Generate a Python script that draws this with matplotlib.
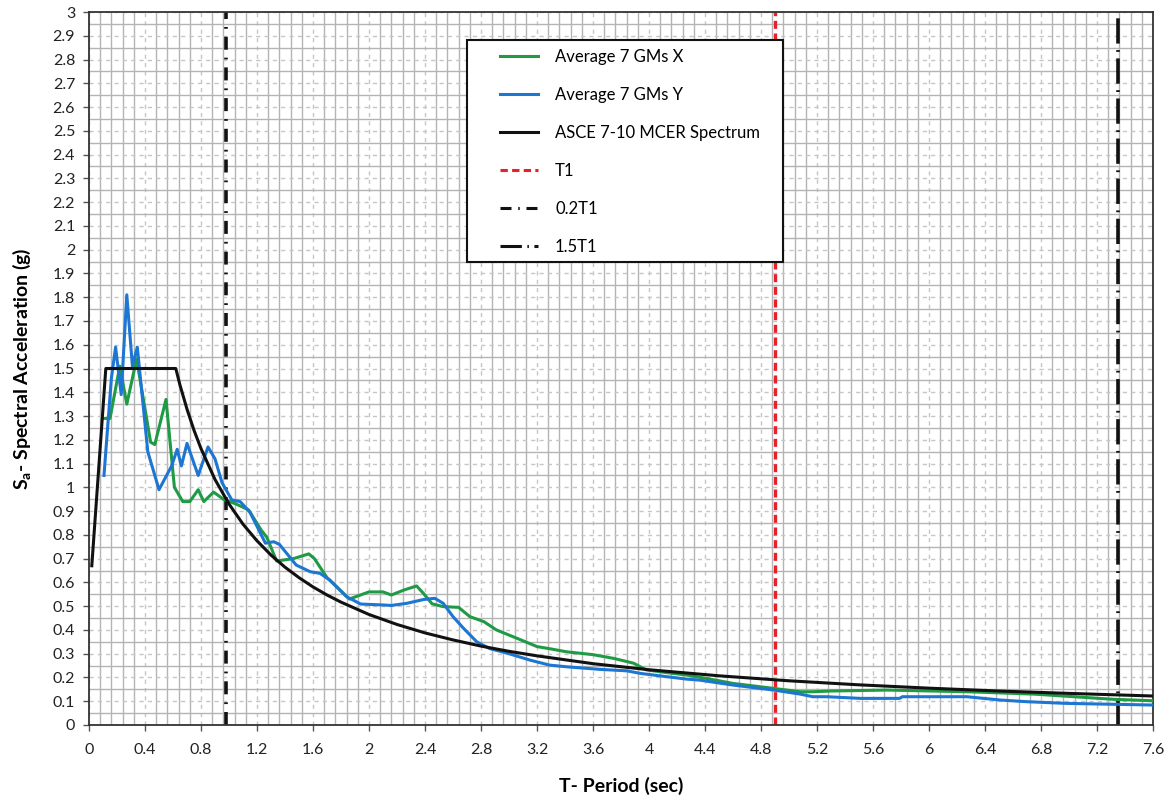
import matplotlib
matplotlib.use("Agg")
import matplotlib.pyplot as plt
from matplotlib.ticker import MultipleLocator
from matplotlib.patches import Rectangle

# ---------------- data ----------------
T_x = [0.11, 0.15, 0.22, 0.27, 0.34, 0.44, 0.47, 0.55, 0.61, 0.67, 0.72, 0.78, 0.82, 0.89,
       0.96, 1.05, 1.14, 1.23, 1.27, 1.34, 1.46, 1.57, 1.61, 1.70, 1.78, 1.86, 2.00, 2.10,
       2.16, 2.25, 2.34, 2.39, 2.45, 2.53, 2.64, 2.72, 2.82, 2.91, 3.06, 3.20, 3.30, 3.41,
       3.60, 3.75, 3.89, 3.98, 4.13, 4.27, 4.41, 4.60, 4.89, 5.08, 5.17, 5.30, 5.70, 6.27,
       6.75, 7.32, 7.60]
Sa_x = [1.29, 1.29, 1.51, 1.35, 1.54, 1.19, 1.18, 1.37, 1.00, 0.94, 0.94, 0.99, 0.94, 0.98,
        0.95, 0.93, 0.905, 0.82, 0.79, 0.69, 0.70, 0.72, 0.70, 0.62, 0.575, 0.53, 0.56, 0.56,
        0.547, 0.568, 0.585, 0.553, 0.51, 0.498, 0.495, 0.456, 0.435, 0.40, 0.364, 0.33, 0.32, 0.308,
        0.296, 0.28, 0.26, 0.232, 0.22, 0.21, 0.196, 0.175, 0.154, 0.14, 0.14, 0.143, 0.147, 0.14,
        0.13, 0.108, 0.102]

T_y = [0.107, 0.16, 0.19, 0.23, 0.27, 0.31, 0.345, 0.42, 0.50, 0.59, 0.63, 0.66, 0.70, 0.78,
       0.85, 0.90, 0.95, 1.02, 1.08, 1.15, 1.26, 1.32, 1.36, 1.48, 1.58, 1.65, 1.72, 1.84,
       1.94, 2.10, 2.16, 2.27, 2.39, 2.47, 2.53, 2.60, 2.675, 2.77, 2.86, 3.00, 3.15, 3.29,
       3.41, 3.65, 3.84, 3.94, 4.13, 4.27, 4.36, 4.60, 4.89, 5.08, 5.17, 5.27, 5.51, 5.79,
       5.81, 6.27, 6.51, 6.70, 6.98, 7.60]
Sa_y = [1.05, 1.46, 1.59, 1.39, 1.81, 1.51, 1.59, 1.15, 0.99, 1.09, 1.16, 1.09, 1.185, 1.05,
        1.17, 1.12, 1.02, 0.947, 0.94, 0.895, 0.765, 0.771, 0.76, 0.673, 0.645, 0.638, 0.61, 0.54,
        0.509, 0.505, 0.503, 0.512, 0.528, 0.533, 0.512, 0.456, 0.407, 0.35, 0.322, 0.30, 0.273, 0.252,
        0.245, 0.234, 0.228, 0.217, 0.203, 0.193, 0.189, 0.168, 0.147, 0.13, 0.119, 0.119, 0.112, 0.112,
        0.119, 0.119, 0.105, 0.098, 0.091, 0.084]

T_asce = [0.02, 0.12, 0.62, 0.65, 0.70, 0.75, 0.80, 0.90, 1.00, 1.10, 1.20, 1.30, 1.40, 1.50,
          1.60, 1.70, 1.80, 2.00, 2.20, 2.40, 2.60, 2.80, 3.00, 3.20, 3.60, 4.00, 4.50, 5.00,
          5.50, 6.00, 6.50, 7.00, 7.60]
Sa_asce = [0.67, 1.50, 1.50, 1.43, 1.329, 1.24, 1.163, 1.033, 0.93, 0.845, 0.775, 0.715, 0.664, 0.62,
           0.581, 0.547, 0.517, 0.465, 0.423, 0.3875, 0.358, 0.332, 0.31, 0.291, 0.258, 0.2325, 0.207, 0.186,
           0.169, 0.155, 0.143, 0.133, 0.122]

T1 = 4.90
T02 = 0.98
T15 = 7.35

x_ticks = [0, 0.4, 0.8, 1.2, 1.6, 2, 2.4, 2.8, 3.2, 3.6, 4, 4.4, 4.8, 5.2, 5.6, 6, 6.4, 6.8, 7.2, 7.6]
x_tick_labels = ["0", "0.4", "0.8", "1.2", "1.6", "2", "2.4", "2.8", "3.2", "3.6", "4", "4.4",
                 "4.8", "5.2", "5.6", "6", "6.4", "6.8", "7.2", "7.6"]
y_ticks = [round(0.1 * i, 1) for i in range(31)]
y_tick_labels = ["0", "0.1", "0.2", "0.3", "0.4", "0.5", "0.6", "0.7", "0.8", "0.9", "1",
                 "1.1", "1.2", "1.3", "1.4", "1.5", "1.6", "1.7", "1.8", "1.9", "2",
                 "2.1", "2.2", "2.3", "2.4", "2.5", "2.6", "2.7", "2.8", "2.9", "3"]

# ---------------- figure ----------------
plt.rcParams['font.family'] = ['Lato', 'DejaVu Sans']
plt.rcParams['mathtext.fontset'] = 'custom'
plt.rcParams['mathtext.rm'] = 'Lato'
plt.rcParams['mathtext.bf'] = 'Lato:bold'

fig = plt.figure(figsize=(11.75, 7.98), dpi=100)
ax = fig.add_axes([89 / 1175, 1 - 725 / 798, (1153 - 89) / 1175, (725 - 12) / 798])

ax.set_xlim(0, 7.6)
ax.set_ylim(0, 3)

ax.set_xticks(x_ticks)
ax.set_xticklabels(x_tick_labels)
ax.set_yticks(y_ticks)
ax.set_yticklabels(y_tick_labels)
ax.xaxis.set_minor_locator(MultipleLocator(0.08))
ax.yaxis.set_minor_locator(MultipleLocator(0.05))

ax.grid(which='minor', color='#b4b4b4', linewidth=1.0, linestyle='-', zorder=0)
ax.grid(which='major', color='#c6c6c6', linewidth=1.0, linestyle=(0, (3, 3)), zorder=0)
ax.set_axisbelow(True)

ax.tick_params(axis='both', which='minor', length=0)
ax.tick_params(axis='both', which='major', length=4, width=1.0, color='#555555',
               labelsize=11.5, labelcolor='#222222', direction='out')
ax.tick_params(axis='x', which='major', pad=9)
ax.tick_params(axis='y', which='major', pad=6)

for s in ax.spines.values():
    s.set_color('#333333')
    s.set_linewidth(1.3)

l_x, = ax.plot(T_x, Sa_x, color='#1f9a45', lw=2.2, label='Average 7 GMs X', zorder=3)
l_y, = ax.plot(T_y, Sa_y, color='#1c76d2', lw=2.2, label='Average 7 GMs Y', zorder=4)
l_a, = ax.plot(T_asce, Sa_asce, color='#111111', lw=2.2, label='ASCE 7-10 MCER Spectrum', zorder=5)
l_t1 = ax.axvline(T1, color='#e8202a', lw=2.4, linestyle=(0, (2.4, 1.4)), label='T1', zorder=2)
l_02 = ax.axvline(T02, color='#111111', lw=2.6, linestyle=(0, (3.6, 2.2, 0.5, 2.2)), label='0.2T1', zorder=2)
l_15 = ax.axvline(T15, color='#111111', lw=2.6, linestyle=(0, (7, 1.8, 0.5, 1.8)), label='1.5T1', zorder=2)

# legend frame (drawn separately so the content can be inset like the original)
frame = Rectangle(((467 - 89) / 1064, (725 - 262) / 713), (783 - 467) / 1064, (262 - 40) / 713,
                  transform=ax.transAxes, facecolor='white', edgecolor='#111111',
                  linewidth=1.5, zorder=6)
ax.add_patch(frame)

leg = ax.legend(handles=[l_x, l_y, l_a, l_t1, l_02, l_15],
                loc='upper left', bbox_to_anchor=((500 - 89) / 1064, (725 - 49) / 713),
                frameon=False, fontsize=12, labelspacing=1.32, handlelength=2.3,
                handletextpad=1.0, borderpad=0, borderaxespad=0)
leg.set_zorder(7)
for h in leg.get_lines():
    h.set_linewidth(2.2)

ax.set_xlabel('T- Period (sec)', fontsize=14, fontweight='bold', labelpad=14)
ax.set_ylabel(r'S$_{\mathbf{a}}$- Spectral Acceleration (g)', fontsize=14, fontweight='bold', labelpad=14)

fig.savefig('out.png', dpi=100)
